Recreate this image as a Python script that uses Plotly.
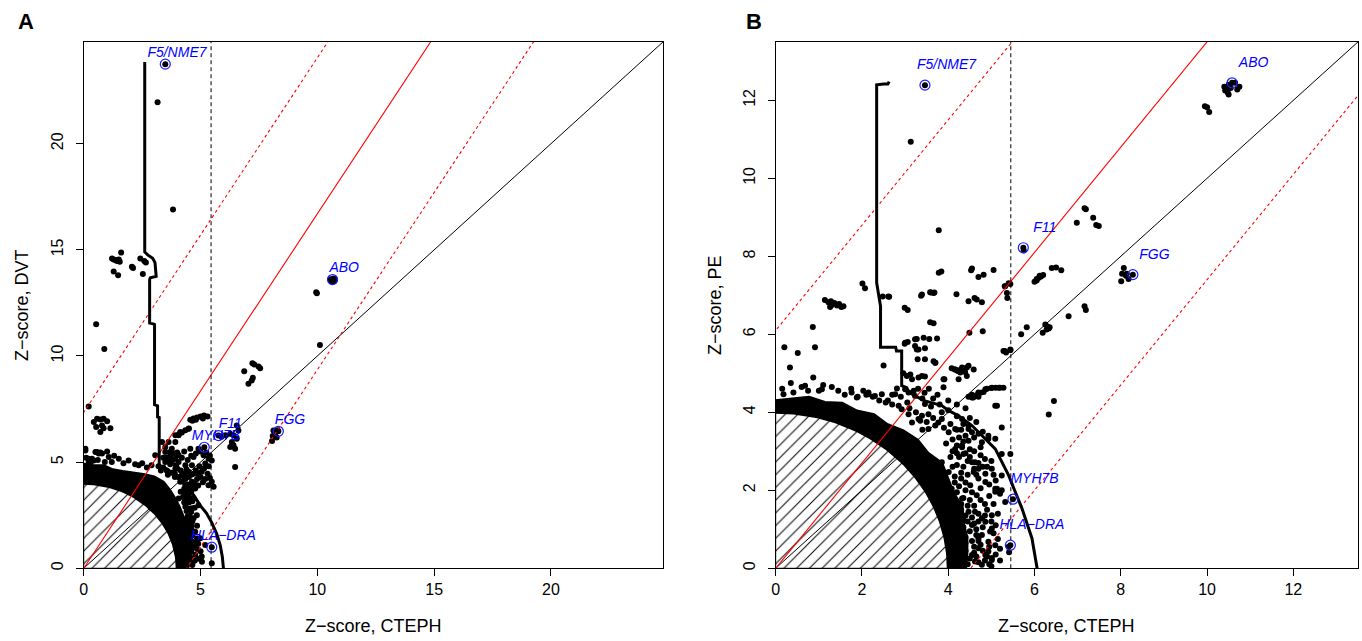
import numpy as np
import plotly.graph_objects as go

W, H = 1362, 641
FONT = "Liberation Sans, Arial, sans-serif"

# ---------------- Panel A : CTEPH vs DVT ----------------
a_range = 24.8
a_ticks = [0, 5, 10, 15, 20]
a_points = [
    (3.16, 21.96), (3.82, 16.9),
    (1.21, 14.59), (1.28, 14.55), (1.35, 14.52), (1.42, 14.47), (1.50, 14.55), (1.54, 14.44), (1.60, 14.87),
    (1.28, 13.98), (1.47, 13.80), (2.06, 14.21), (2.11, 14.15), (2.42, 14.59), (2.53, 13.86), (2.59, 14.47), (2.66, 14.4),
    (10.55, 13.62), (10.6, 13.55), (10.65, 13.6), (10.7, 13.65), (10.75, 13.6), (10.62, 13.5), (10.72, 13.52),
    (9.95, 13.0), (9.98, 12.95), (10.11, 10.52),
    (7.22, 9.66), (7.3, 9.6), (7.48, 9.5), (7.55, 9.42), (6.87, 9.28), (7.24, 8.97), (7.19, 8.84), (7.05, 8.69),
    (8.12, 6.49), (8.19, 6.34), (8.09, 6.23), (8.26, 6.16), (8.06, 5.99), (8.3, 6.5),
    (6.48, 4.77), (6.55, 6.73), (6.41, 6.26), (6.34, 5.95), (6.27, 5.71), (6.41, 5.79), (6.62, 6.49), (6.55, 6.1),
    (6.48, 5.63), (6.34, 5.79), (6.06, 6.26), (6.27, 6.34), (5.9, 6.2),
    (0.53, 11.5), (0.88, 10.33), (0.21, 7.62),
    (0.43, 6.89), (0.57, 7.04), (0.71, 7.01), (0.85, 7.04), (1.0, 6.92), (0.53, 6.65), (0.78, 6.73), (0.85, 6.6),
    (1.14, 6.6), (0.71, 6.42),
    (0.07, 5.55), (0.57, 5.48), (0.64, 5.4), (0.71, 5.45), (1.5, 5.16), (0.43, 5.08), (0.21, 5.16), (0.07, 5.63),
    (0.50, 5.48), (0.78, 5.40), (1.07, 5.24), (0.35, 5.16), (1.92, 5.08), (0.21, 5.01),
    (4.56, 7.0), (4.7, 7.05), (4.85, 7.1), (5.0, 7.15), (5.15, 7.2), (5.3, 7.15), (4.65, 6.95), (4.8, 7.0), (5.1, 7.05),
    (4.06, 6.3), (4.2, 6.4), (4.35, 6.5), (4.5, 6.58), (4.13, 6.42), (4.49, 6.57), (3.92, 6.26),
    (3.35, 5.95), (3.49, 5.71), (3.70, 5.48), (3.92, 5.95), (4.06, 6.26), (3.92, 5.16), (3.63, 5.95), (3.49, 5.48),
    (4.06, 5.32), (4.56, 5.63), (4.70, 5.24), (4.91, 5.63), (5.13, 5.32), (5.34, 5.16), (5.20, 4.93), (5.48, 5.08),
    (4.63, 4.85), (5.0, 5.5), (4.8, 5.4), (5.25, 5.45), (5.4, 5.3), (4.45, 5.1), (4.3, 5.5),
    (2.35, 4.85), (3.06, 5.32), (3.77, 5.63), (4.06, 5.01), (4.49, 4.54), (4.35, 3.91), (4.06, 3.29), (4.20, 4.38),
    (3.92, 4.69), (3.49, 5.01), (4.13, 4.07), (4.35, 4.85), (4.63, 4.07), (4.77, 3.76), (4.49, 3.44), (4.70, 3.29),
    (4.91, 2.97), (4.63, 2.82), (4.84, 2.50), (4.49, 2.03), (4.77, 1.72), (4.99, 1.41), (5.20, 1.09), (4.49, 0.94),
    (4.77, 0.63), (5.06, 0.31), (4.35, 0.16), (5.48, 4.07), (5.34, 3.91), (5.56, 3.84), (3.3, 4.6), (3.6, 4.4),
    (3.9, 4.3), (4.0, 4.7), (3.7, 4.9), (4.3, 3.6), (4.6, 3.6), (4.55, 2.4), (4.6, 1.3), (4.5, 1.6), (4.65, 2.2),
    (4.4, 2.7), (4.3, 3.1), (4.85, 2.0), (4.7, 1.0), (4.55, 0.5), (4.85, 0.9),
    (5.48, 0.23),
    (3.2, 4.8), (3.4, 4.75), (3.55, 4.6), (3.75, 4.5), (3.9, 4.45), (4.05, 4.3), (4.2, 4.1), (4.35, 4.2),
    (4.45, 3.95), (4.3, 3.75), (4.15, 3.6), (4.4, 3.5), (4.55, 3.3), (4.25, 3.35), (4.5, 3.1), (4.35, 2.9),
    (4.6, 2.65), (4.45, 2.45), (4.7, 2.35), (4.55, 2.15), (4.4, 1.9), (4.6, 1.85), (4.45, 1.4), (4.65, 1.55),
    (4.55, 1.15), (4.75, 1.2), (4.6, 0.8), (4.5, 0.3), (4.65, 0.15), (4.9, 0.45), (3.55, 5.2), (3.7, 5.3),
    (3.85, 5.4), (4.0, 5.45), (3.4, 5.2), (3.8, 5.1), (4.2, 5.2), (4.6, 5.3), (4.4, 4.65), (4.6, 4.4),
    (4.8, 4.6), (5.0, 4.3), (4.9, 3.9), (5.1, 4.05), (5.3, 4.45), (5.15, 4.7), (4.95, 4.8), (5.35, 4.8),
    (0.1, 5.2), (0.3, 5.0), (0.6, 5.1), (0.9, 5.0), (1.2, 5.0), (1.7, 4.95), (2.2, 4.9), (2.5, 4.95),
    (2.7, 4.75), (2.9, 4.85), (1.0, 5.5), (1.3, 5.3),
    (4.5, 3.7), (4.6, 3.85), (4.75, 4.0), (4.85, 4.2), (4.7, 4.45), (4.5, 4.3), (4.3, 4.45), (4.15, 4.6),
    (3.95, 4.85), (3.75, 5.0), (3.6, 5.05), (4.9, 4.45), (5.05, 4.55), (5.2, 4.2), (5.4, 4.25), (4.4, 3.3),
    (4.65, 3.15), (4.75, 2.85), (4.5, 2.8), (4.4, 2.3), (4.6, 2.0), (4.45, 1.7), (4.65, 1.75), (4.4, 1.2),
    (4.6, 1.05), (4.4, 0.6), (4.6, 0.45), (4.75, 0.35), (4.5, 0.65), (4.85, 1.4), (4.9, 1.15), (5.0, 0.8),
    (5.05, 0.55), (4.3, 2.1), (4.3, 1.5),
]
a_genes = ["F5/NME7", "ABO", "F11", "MYH7B", "FGG", "HLA\u2212DRA"]
a_gene_x = [3.49, 10.65, 5.77, 5.16, 8.33, 5.48]
a_gene_y = [23.75, 13.6, 6.25, 5.7, 6.45, 0.99]
a_step_x = [2.61, 2.61, 2.75, 2.95, 3.05, 3.10, 2.85, 2.82, 2.82, 3.02, 3.03, 3.03, 3.16, 3.16, 3.23, 3.23]
a_step_y = [23.85, 14.9, 14.75, 14.6, 14.4, 13.75, 13.69, 13.6, 11.55, 11.5, 11.45, 7.7, 7.65, 7.13, 7.1, 4.85]
a_arc_x = [3.23, 3.6, 4.0, 4.4, 4.7, 4.99, 5.25, 5.48, 5.7, 5.84, 5.93, 5.98]
a_arc_y = [4.85, 4.65, 4.3, 3.85, 3.45, 2.95, 2.6, 2.15, 1.6, 1.09, 0.55, 0.0]
a_band_theta = [90, 85, 80, 75, 70, 65, 60, 55, 50, 45, 40, 35, 30, 25, 20, 15, 10, 5, 0]
a_band_r = [4.9, 4.85, 4.9, 4.8, 4.85, 4.95, 5.1, 5.25, 5.3, 5.2, 5.1, 5.0, 4.9, 4.85, 4.75, 4.7, 4.6, 4.55, 4.45]
a_slope, a_offset = 1.67, 7.35

# ---------------- Panel B : CTEPH vs PE ----------------
b_range = 13.5
b_ticks = [0, 2, 4, 6, 8, 10, 12]
b_points = [
    (3.13, 10.94), (3.78, 8.67),
    (10.4, 12.35), (10.45, 12.3), (10.5, 12.4), (10.42, 12.25), (10.48, 12.2), (10.55, 12.32), (10.65, 12.45),
    (10.7, 12.28), (10.75, 12.35), (10.5, 12.15), (9.95, 11.85), (10.0, 11.82), (10.05, 11.7),
    (5.75, 8.15), (7.16, 9.23), (7.19, 9.21), (6.98, 8.86), (7.36, 8.99), (7.43, 8.8), (7.49, 8.78),
    (6.0, 7.35), (6.05, 7.42), (6.1, 7.45), (6.15, 7.48), (6.2, 7.52), (6.05, 7.38), (6.12, 7.5), (6.4, 7.7),
    (6.5, 7.71), (6.62, 7.64),
    (4.55, 7.69), (4.70, 7.47), (4.82, 7.53), (5.05, 7.65), (5.31, 7.23), (5.44, 7.29), (5.36, 7.06), (5.37, 6.93),
    (3.78, 7.58), (3.84, 7.61), (2.01, 7.30), (2.07, 7.18),
    (1.14, 6.88), (1.22, 6.82), (1.28, 6.85), (1.3, 6.75), (1.36, 6.8), (1.42, 6.74), (1.47, 6.78), (1.52, 6.7),
    (1.57, 6.72), (1.26, 6.7),
    (0.86, 6.19), (2.48, 6.97), (2.61, 6.97), (3.37, 6.99), (3.58, 7.08), (3.66, 7.06), (4.19, 7.03), (4.61, 6.93),
    (4.66, 6.89), (4.78, 6.82), (4.47, 6.85), (2.99, 6.68), (3.06, 6.62), (3.58, 6.31), (3.66, 6.28), (4.49, 6.04),
    (4.80, 6.08), (5.69, 6.0), (5.82, 6.18),
    (6.25, 6.25), (6.3, 6.2), (6.35, 6.18), (6.28, 6.12), (6.33, 6.15), (6.19, 6.04),
    (8.07, 7.70), (8.03, 7.55), (8.12, 7.50), (8.18, 7.42), (8.01, 7.36), (8.14, 7.55),
    (7.16, 6.72), (7.19, 6.62), (6.79, 6.46), (6.45, 4.29), (6.33, 3.94),
    (5.44, 5.59), (5.31, 5.57), (5.34, 5.53), (5.32, 7.23), (5.40, 7.31),
    (4.08, 5.13), (4.15, 5.1), (4.22, 5.06), (4.3, 5.05), (4.37, 5.08), (4.43, 5.15),
    (4.47, 4.4), (4.55, 4.45), (4.6, 4.42), (4.68, 4.45), (4.75, 4.5), (4.82, 4.52), (4.9, 4.6), (5.0, 4.62),
    (5.1, 4.63), (5.2, 4.63), (5.28, 4.63), (4.7, 4.4), (4.58, 4.38), (5.13, 4.17),
    (0.20, 5.67), (0.91, 5.67), (0.51, 5.52), (0.33, 5.15), (0.87, 4.89), (2.50, 5.20),
    (2.99, 5.76), (3.06, 5.80), (3.27, 5.88), (3.43, 5.91), (3.56, 5.88), (3.74, 5.89), (3.23, 5.70), (3.27, 5.61),
    (3.46, 5.64), (3.29, 5.36), (3.66, 5.31), (3.70, 5.27), (3.12, 4.97), (2.96, 5.0), (3.04, 4.93), (3.31, 4.89),
    (3.39, 4.93), (3.46, 4.92), (3.16, 4.85), (4.24, 5.08), (4.32, 5.1), (4.39, 5.03), (4.28, 5.02), (3.91, 4.85),
    (3.89, 4.64), (2.81, 4.61), (3.0, 4.59), (3.08, 4.51),
    (2.63, 6.96), (3.39, 7.02), (3.60, 7.07), (3.68, 7.07), (4.53, 7.64),
    (0.15, 4.6), (0.35, 4.75), (0.6, 4.65), (0.75, 4.55), (1.0, 4.55), (1.1, 4.7), (1.3, 4.65), (1.45, 4.55),
    (1.6, 4.45), (1.75, 4.6), (1.9, 4.4), (2.1, 4.45), (2.25, 4.4), (2.4, 4.3), (2.55, 4.25), (2.7, 4.2),
    (1.76, 4.51), (2.03, 4.55), (2.15, 4.46), (2.30, 4.42), (1.88, 4.38), (0.68, 4.68), (1.07, 4.59), (0.41, 4.51),
    (0.18, 4.46),
    (3.16, 3.74), (3.39, 3.91), (3.54, 3.57), (3.77, 3.74), (4.01, 3.49), (4.16, 3.06), (4.32, 3.10), (4.47, 3.27),
    (4.35, 2.93), (3.85, 2.72), (4.01, 2.47), (4.59, 2.47), (4.70, 2.30), (4.86, 2.21), (5.01, 2.55), (5.09, 2.04),
    (5.24, 2.00), (4.62, 2.72), (4.32, 1.79), (4.47, 1.45), (4.32, 1.19), (4.55, 1.11), (4.70, 0.77), (4.93, 0.43),
    (5.01, 0.21), (4.55, 0.34), (4.32, 0.59), (4.78, 0.09), (4.24, 0.43), (4.55, 4.38), (4.70, 4.51), (4.86, 4.59),
    (5.01, 4.63), (5.17, 4.63), (5.09, 4.17), (5.09, 3.32), (4.93, 3.32), (4.47, 3.66), (4.55, 3.49), (3.85, 3.83),
    (4.32, 3.83), (5.24, 2.38), (5.13, 2.04), (4.62, 1.45), (4.78, 1.28), (4.97, 0.94), (4.66, 1.87), (4.51, 2.13),
    (4.08, 2.04), (4.16, 1.61),
    (2.15, 4.51), (2.46, 4.46), (2.77, 4.46), (3.23, 4.42), (3.46, 4.21), (3.35, 3.78),
    (5.28, 5.57), (5.44, 5.61), (5.24, 3.61), (5.44, 2.93), (5.24, 2.93), (5.09, 1.96), (5.20, 1.91), (5.32, 1.70),
    (5.40, 0.55), (5.41, 0.41), (5.01, 1.36), (4.86, 1.19), (5.01, 1.02), (4.78, 0.85), (4.93, 0.68), (5.09, 0.59),
    (4.70, 0.51), (4.86, 0.34), (5.01, 0.26), (4.62, 0.17),
    (4.47, 5.19), (4.59, 5.10), (4.32, 5.06), (4.43, 4.93), (4.24, 4.85),
    (4.93, 3.40), (4.78, 3.23), (4.55, 2.72), (4.70, 2.55), (4.86, 2.42), (4.32, 3.15), (4.16, 3.57), (4.47, 3.57),
    (3.0, 5.78), (3.23, 5.87), (3.31, 5.61), (3.46, 5.36), (3.70, 5.27), (3.89, 4.85), (4.16, 5.10), (4.32, 5.15),
    (2.85, 4.17), (2.92, 4.08), (3.08, 3.95), (3.31, 3.83), (3.54, 3.95), (3.70, 3.66),
    (3.9, 3.6), (4.05, 3.7), (4.2, 3.55), (4.1, 3.3), (4.25, 3.35), (4.4, 3.4), (3.95, 3.2), (4.1, 3.0),
    (4.25, 2.85), (4.4, 2.95), (4.5, 3.05), (4.2, 2.65), (4.35, 2.6), (4.45, 2.75), (4.15, 2.35), (4.3, 2.3),
    (4.45, 2.4), (4.6, 2.55), (4.25, 2.1), (4.4, 2.0), (4.55, 1.95), (4.75, 2.05), (4.35, 1.8), (4.5, 1.75),
    (4.3, 1.5), (4.4, 1.35), (4.55, 1.3), (4.7, 1.4), (4.35, 1.05), (4.5, 0.95), (4.65, 1.0), (4.8, 1.05),
    (4.4, 0.8), (4.55, 0.7), (4.6, 0.55), (4.75, 0.6), (4.4, 0.45), (4.5, 0.25), (4.65, 0.3), (4.7, 0.15),
    (4.85, 0.2), (4.95, 0.1), (4.45, 0.1), (5.1, 0.35), (5.2, 0.5), (5.15, 0.75), (4.9, 1.5), (5.05, 1.65),
    (5.15, 1.4), (4.9, 2.6), (5.0, 2.75), (4.75, 2.9), (4.6, 3.0), (4.8, 3.5), (4.65, 3.75), (4.4, 4.1),
    (4.2, 4.2), (4.0, 4.3), (3.75, 4.45), (3.55, 4.6), (3.85, 4.0), (3.6, 4.15), (3.4, 4.35), (3.2, 4.55),
    (3.05, 4.25), (2.9, 4.4), (2.7, 4.45), (2.6, 4.3), (3.4, 3.55),
    (4.3, 3.55), (4.35, 3.25), (4.2, 3.15), (4.05, 2.85), (4.2, 2.95), (4.1, 2.6), (4.3, 2.45), (4.15, 2.2),
    (4.4, 2.2), (4.2, 1.95), (4.3, 1.65), (4.45, 1.6), (4.2, 1.4), (4.35, 1.25), (4.25, 1.1), (4.45, 1.2),
    (4.3, 0.9), (4.4, 0.65), (4.3, 0.3), (4.6, 0.4), (4.7, 0.7), (4.65, 0.85), (4.8, 0.45), (4.9, 0.3),
    (4.6, 1.15), (4.7, 1.2), (4.6, 1.6), (4.75, 1.75), (4.85, 1.65), (4.95, 1.85), (4.65, 2.4), (4.8, 2.6),
    (4.7, 2.7), (4.5, 2.85), (4.75, 3.1), (4.6, 3.35), (4.7, 3.45), (4.35, 3.7), (4.5, 3.85), (4.2, 3.9),
    (4.0, 4.05), (3.8, 4.2), (3.65, 4.35), (3.45, 4.5), (3.3, 4.6), (3.1, 4.1), (3.25, 4.0), (3.5, 3.75),
    (3.65, 3.85), (5.0, 1.2), (5.1, 1.1), (5.05, 0.9), (4.95, 0.55), (5.0, 0.05), (5.2, 0.2), (4.85, 1.35),
    (4.95, 2.15), (5.1, 2.25), (5.05, 2.4), (4.85, 2.8),
]
b_genes = ["F5/NME7", "ABO", "F11", "FGG", "MYH7B", "HLA\u2212DRA"]
b_gene_x = [3.46, 10.58, 5.74, 8.28, 5.50, 5.44]
b_gene_y = [12.39, 12.45, 8.22, 7.53, 1.77, 0.59]
b_step_x = [2.63, 2.60, 2.50, 2.34, 2.34, 2.40, 2.43, 2.43, 2.78, 2.80, 2.92, 2.92, 3.04, 3.08, 3.15, 3.23]
b_step_y = [12.48, 12.42, 12.42, 12.40, 7.32, 6.89, 6.72, 5.67, 5.67, 5.57, 5.57, 4.68, 4.63, 4.52, 4.47, 4.42]
b_arc_x = [3.23, 3.46, 3.85, 4.01, 4.24, 4.55, 5.09, 5.40, 5.71, 5.94, 6.06]
b_arc_y = [4.42, 4.29, 4.17, 4.04, 3.91, 3.66, 3.06, 2.38, 1.53, 0.77, 0.0]
b_band_theta = [90, 85, 80, 75, 70, 65, 60, 55, 50, 45, 40, 35, 30, 25, 20, 15, 10, 5, 0]
b_band_r = [4.3, 4.35, 4.45, 4.4, 4.5, 4.45, 4.55, 4.5, 4.6, 4.65, 4.6, 4.7, 4.6, 4.55, 4.6, 4.5, 4.5, 4.45, 4.4]
b_slope, b_offset = 1.35, 6.1

GWAS_Z = 5.45      # genome-wide significance threshold
HATCH_R = 4.0      # radius of the hatched (non-significant) region
LABEL_DX, LABEL_DY = 0.5, 0.5

# ---------------- figure ----------------
fig = go.Figure()


def add_panel(xa, ya, rng, pts, genes, gx, gy, sx, sy, arcx, arcy, bth, br, slope, off):
    kw = dict(xaxis=xa, yaxis=ya, showlegend=False, hoverinfo="skip")
    th = np.radians(np.linspace(0, 90, 91))
    # hatched quarter disc
    hx = np.concatenate([[0], HATCH_R * np.cos(th), [0]])
    hy = np.concatenate([[0], HATCH_R * np.sin(th), [0]])
    fig.add_trace(go.Scatter(x=hx, y=hy, mode="lines", fill="toself",
                             fillcolor="white",
                             fillpattern=dict(shape="/", size=9, solidity=0.11,
                                              fgcolor="black", bgcolor="white", fgopacity=1),
                             line=dict(color="black", width=0.8), **kw))
    # dense cloud of points just outside the hatched disc
    btr = np.radians(np.array(bth, dtype=float))
    ox = np.array(br) * np.cos(btr)
    oy = np.array(br) * np.sin(btr)
    ix = HATCH_R * np.cos(th)
    iy = HATCH_R * np.sin(th)
    fig.add_trace(go.Scatter(x=np.concatenate([ix, ox]), y=np.concatenate([iy, oy]),
                             mode="lines", fill="toself", fillcolor="black",
                             line=dict(color="black", width=3), **kw))
    # individual points
    px, py = zip(*pts)
    fig.add_trace(go.Scatter(x=list(px) + gx, y=list(py) + gy, mode="markers",
                             marker=dict(color="black", size=6), **kw))
    # reference lines
    fig.add_trace(go.Scatter(x=[0, rng * 1.2], y=[0, rng * 1.2], mode="lines",
                             line=dict(color="black", width=1), **kw))
    xs = [-2, rng * 1.2]
    fig.add_trace(go.Scatter(x=xs, y=[slope * v for v in xs], mode="lines",
                             line=dict(color="red", width=1.1), **kw))
    for sgn in (1, -1):
        fig.add_trace(go.Scatter(x=xs, y=[slope * v + sgn * off for v in xs], mode="lines",
                                 line=dict(color="red", width=1.1, dash="3px,3px"), **kw))
    fig.add_trace(go.Scatter(x=[GWAS_Z, GWAS_Z], y=[0, rng * 1.2], mode="lines",
                             line=dict(color="black", width=1, dash="4px,3px"), **kw))
    # threshold boundary (step + arc)
    fig.add_trace(go.Scatter(x=sx + arcx[1:], y=sy + arcy[1:], mode="lines",
                             line=dict(color="black", width=3), **kw))
    # highlighted genes
    fig.add_trace(go.Scatter(x=gx, y=gy, mode="markers",
                             marker=dict(symbol="circle-open", size=10, color="#1a1aff",
                                         line=dict(width=1.2, color="#1a1aff")), **kw))
    fig.add_trace(go.Scatter(x=[v + LABEL_DX for v in gx], y=[v + LABEL_DY for v in gy],
                             mode="text", text=["<i>%s</i>" % g for g in genes],
                             textposition="middle center",
                             textfont=dict(color="#0000ff", size=14, family=FONT),
                             cliponaxis=False, **kw))


add_panel("x", "y", a_range, a_points, a_genes, a_gene_x, a_gene_y, a_step_x, a_step_y,
          a_arc_x, a_arc_y, a_band_theta, a_band_r, a_slope, a_offset)
add_panel("x2", "y2", b_range, b_points, b_genes, b_gene_x, b_gene_y, b_step_x, b_step_y,
          b_arc_x, b_arc_y, b_band_theta, b_band_r, b_slope, b_offset)


def px2paper_x(p):
    return p / W


def px2paper_y(p):
    return 1 - p / H


ydom = [px2paper_y(570), px2paper_y(42)]
axis_common = dict(showgrid=False, zeroline=False, showline=True, linecolor="black", linewidth=1,
                   mirror=True, ticks="outside", ticklen=7, tickwidth=1, tickcolor="black",
                   tickfont=dict(size=16, family=FONT, color="black"), fixedrange=True)
fig.update_layout(
    width=W, height=H, margin=dict(l=0, r=0, t=0, b=0),
    paper_bgcolor="white", plot_bgcolor="white",
    xaxis=dict(domain=[px2paper_x(80), px2paper_x(661)], range=[0, a_range], tickvals=a_ticks, **axis_common),
    yaxis=dict(domain=ydom, range=[0, a_range], tickvals=a_ticks, tickangle=-90,
               ticklabelstandoff=6, **axis_common),
    xaxis2=dict(domain=[px2paper_x(774), px2paper_x(1358)], range=[0, b_range], tickvals=b_ticks,
                anchor="y2", **axis_common),
    yaxis2=dict(domain=ydom, range=[0, b_range], tickvals=b_ticks, tickangle=-90, anchor="x2",
                ticklabelstandoff=6, **axis_common),
)

ann = []
for txt, x, y, ang, size, bold in [
    ("Z\u2212score, CTEPH", 370.5, 628, 0, 18, False),
    ("Z\u2212score, CTEPH", 1066, 628, 0, 18, False),
    ("Z\u2212score, DVT", 18, 306, -90, 18, False),
    ("Z\u2212score, PE", 713, 306, -90, 18, False),
    ("A", 22, 22, 0, 22, True),
    ("B", 752, 22, 0, 22, True),
]:
    ann.append(dict(text="<b>%s</b>" % txt if bold else txt, x=px2paper_x(x), y=px2paper_y(y),
                    xref="paper", yref="paper", showarrow=False, textangle=ang,
                    xanchor="center", yanchor="middle",
                    font=dict(size=size, family=FONT, color="black")))
fig.update_layout(annotations=ann)

fig.write_html("out.html")
